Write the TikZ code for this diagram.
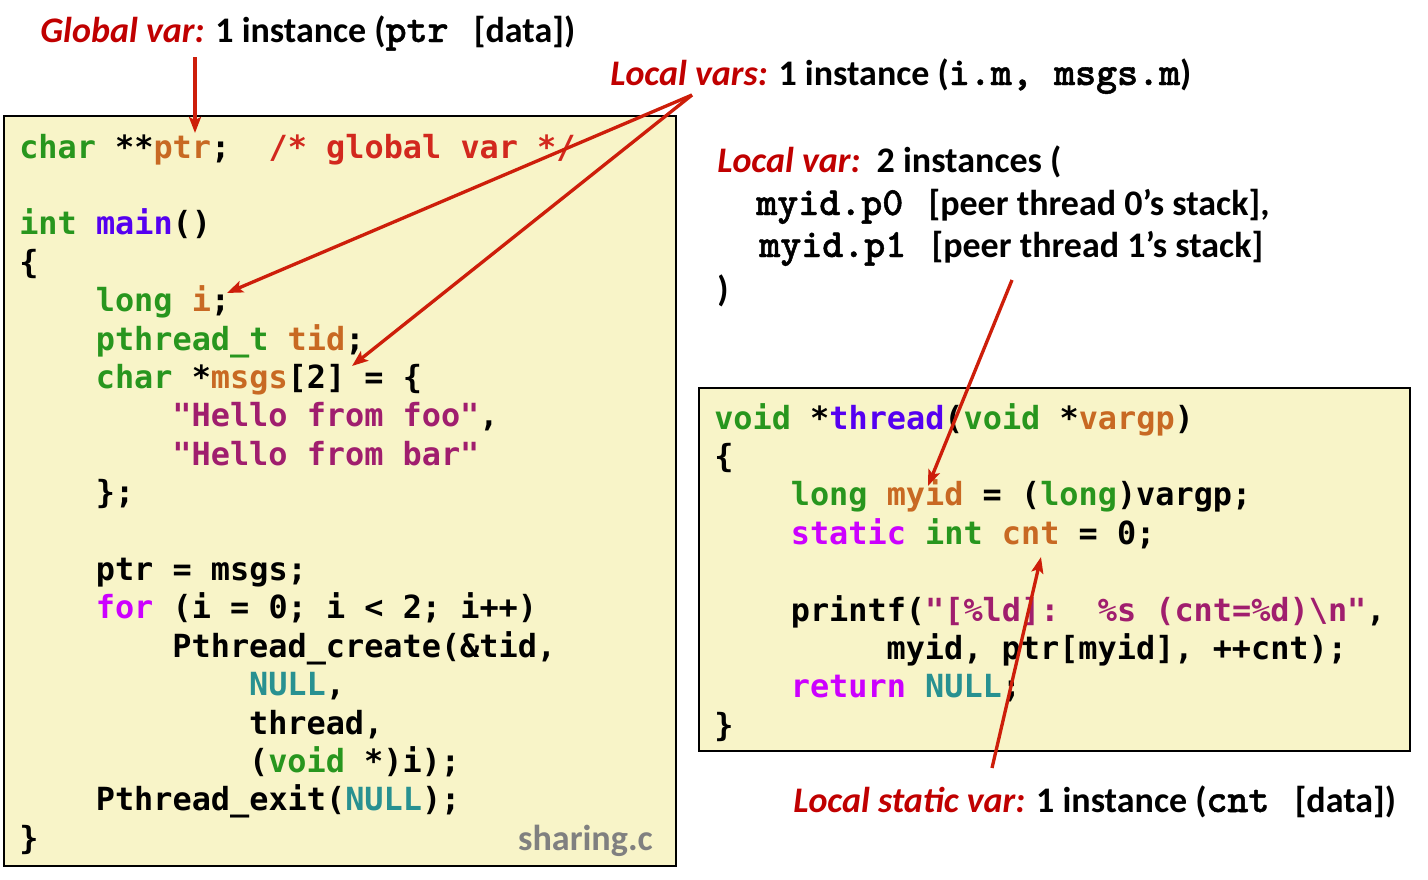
\documentclass[tikz,border=0pt]{standalone}
\usepackage{fontspec}
\usetikzlibrary{arrows.meta}
\newfontfamily\codefont{DejaVu Sans Mono}[Ligatures=TeXOff]
\newfontfamily\labfont{Carlito}
\newfontfamily\labmono{lmmonolt10-bold.otf}[Ligatures=TeXOff,FakeBold=1.2]
\definecolor{ctype}{RGB}{40,150,30}
\definecolor{cvar}{RGB}{200,105,35}
\definecolor{ccom}{RGB}{210,40,30}
\definecolor{cfun}{RGB}{85,0,240}
\definecolor{ckey}{RGB}{204,0,255}
\definecolor{cstr}{RGB}{160,30,110}
\definecolor{cnul}{RGB}{40,145,145}
\definecolor{boxfill}{RGB}{248,244,200}
\definecolor{labred}{RGB}{192,0,0}
\definecolor{arrred}{RGB}{205,30,10}
\definecolor{fgray}{RGB}{128,128,128}
\newcommand\ct[1]{\textcolor{ctype}{#1}}
\newcommand\cv[1]{\textcolor{cvar}{#1}}
\newcommand\cc[1]{\textcolor{ccom}{#1}}
\newcommand\cf[1]{\textcolor{cfun}{#1}}
\newcommand\ck[1]{\textcolor{ckey}{#1}}
\newcommand\cs[1]{\textcolor{cstr}{#1}}
\newcommand\cn[1]{\textcolor{cnul}{#1}}
\newcommand\SP{\phantom{x}}
\newcommand\lr[1]{\textcolor{labred}{\itshape #1}}
\newcommand\lm[1]{{\labmono\fontsize{30}{32}\selectfont #1}}
\begin{document}
\begin{tikzpicture}[x=0.75pt,y=-0.75pt,
  codebox/.style={draw=black,line width=1.5pt,fill=boxfill},
  codeline/.style={anchor=base west,inner sep=0pt,
    font=\codefont\bfseries\fontsize{23.9}{28}\selectfont\frenchspacing},
  lab/.style={anchor=base west,inner sep=0pt,
    font=\labfont\bfseries\fontsize{27}{30}\selectfont},
  pointer/.style={draw=arrred,line width=2.5pt,
    -{Stealth[length=12pt,width=9pt,inset=2.5pt]}}]
\useasboundingbox (0,0) rectangle (1428,879);
% boxes
\path[codebox] (4,116) rectangle (676,866);
\path[codebox] (699,388) rectangle (1410,751);
% left code
\def\lx#1{19+19.15*#1}
\def\ly#1{158+38.4*#1}
\node[codeline] (m0) at ({\lx0},{\ly0}) {\ct{char} **\cv{ptr};\SP\SP\cc{/* global var */}};
\node[codeline] (m2) at ({\lx0},{\ly2}) {\ct{int} \cf{main}()};
\node[codeline] (m3) at ({\lx0},{\ly3}) {\{};
\node[codeline] (m4) at ({\lx4},{\ly4}) {\ct{long} \cv{i};};
\node[codeline] (m5) at ({\lx4},{\ly5}) {\ct{pthread\_t} \cv{tid};};
\node[codeline] (m6) at ({\lx4},{\ly6}) {\ct{char} *\cv{msgs}[2] = \{};
\node[codeline] (m7) at ({\lx8},{\ly7}) {\cs{"Hello from foo"},};
\node[codeline] (m8) at ({\lx8},{\ly8}) {\cs{"Hello from bar"}};
\node[codeline] (m9) at ({\lx4},{\ly9}) {\};};
\node[codeline] (m11) at ({\lx4},{\ly{11}}) {ptr = msgs;};
\node[codeline] (m12) at ({\lx4},{\ly{12}}) {\ck{for} (i = 0; i < 2; i++)};
\node[codeline] (m13) at ({\lx8},{\ly{13}}) {Pthread\_create(\&tid,};
\node[codeline] (m14) at ({\lx{12}},{\ly{14}}) {\cn{NULL},};
\node[codeline] (m15) at ({\lx{12}},{\ly{15}}) {thread,};
\node[codeline] (m16) at ({\lx{12}},{\ly{16}}) {(\ct{void} *)i);};
\node[codeline] (m17) at ({\lx4},{\ly{17}}) {Pthread\_exit(\cn{NULL});};
\node[codeline] (m18) at ({\lx0},{\ly{18}}) {\}};
\node[anchor=base east,inner sep=0pt,font=\labfont\bfseries\fontsize{27.1}{30}\selectfont,text=fgray] (fname) at (653,850) {sharing.c};
% right code
\def\rx#1{714+19.15*#1}
\def\ry#1{429+38.4*#1}
\node[codeline] (t0) at ({\rx0},{\ry0}) {\ct{void} *\cf{thread}(\ct{void} *\cv{vargp})};
\node[codeline] (t1) at ({\rx0},{\ry1}) {\{};
\node[codeline] (t2) at ({\rx4},{\ry2}) {\ct{long} \cv{myid} = (\ct{long})vargp;};
\node[codeline] (t3) at ({\rx4},{\ry3}) {\ck{static} \ct{int} \cv{cnt} = 0;};
\node[codeline] (t5) at ({\rx4},{\ry5}) {printf(\cs{"[\%ld]:\SP\SP\%s (cnt=\%d)\textbackslash n"},};
\node[codeline] (t6) at ({\rx9},{\ry6}) {myid, ptr[myid], ++cnt);};
\node[codeline] (t7) at ({\rx4},{\ry7}) {\ck{return} \cn{NULL};};
\node[codeline] (t8) at ({\rx0},{\ry8}) {\}};
% labels
\node[lab] (gv) at (40,42) {\lr{Global var:} 1 instance (\lm{ptr}\hspace{19pt}[data])};
\node[lab] (lv) at (610,85) {\lr{Local vars:} 1 instance (\lm{i.m,\hspace{16pt}msgs.m})};
\node[lab] (lc) at (717,172) {\lr{Local var:}\hspace{4pt} 2 instances (};
\node[lab] (p0) at (756,215) {\lm{myid.p0}\hspace{19pt}[peer thread 0’s stack],};
\node[lab] (p1) at (759,257) {\lm{myid.p1}\hspace{19pt}[peer thread 1’s stack]};
\node[lab] (rp) at (717,301) {)};
\node[lab] (ls) at (793,812) {\lr{Local static var:} 1 instance (\lm{cnt}\hspace{19pt}[data])};
% arrow anchors
\coordinate (gvFoot) at (195,57);
\coordinate (ptrTip) at (195,133);
\coordinate (lvFoot) at (692,95);
\coordinate (iTip) at (227,293);
\coordinate (msgsTip) at (352,366);
\coordinate (lcFoot) at (1012,280);
\coordinate (myidTip) at (928,486);
\coordinate (lsFoot) at (992,768);
\coordinate (cntTip) at (1041,557);
\draw[pointer] (gvFoot) -- (ptrTip);
\draw[pointer] (lvFoot) -- (iTip);
\draw[pointer] (lvFoot) -- (msgsTip);
\draw[pointer] (lcFoot) -- (myidTip);
\draw[pointer] (lsFoot) -- (cntTip);
\end{tikzpicture}
\end{document}
